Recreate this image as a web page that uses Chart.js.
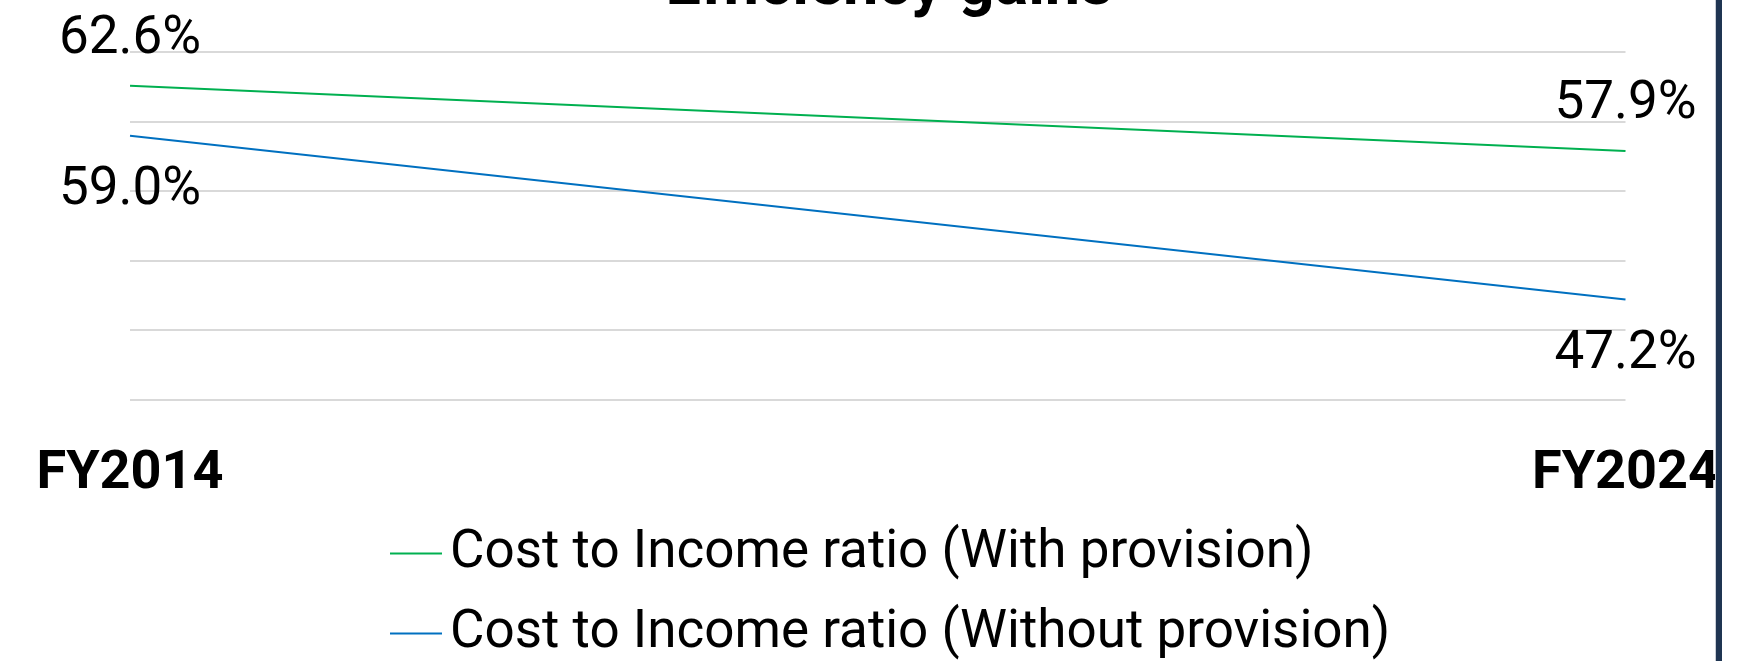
<!DOCTYPE html>
<html>
<head>
<meta charset="utf-8">
<title>Efficiency gains</title>
<script src="https://cdn.jsdelivr.net/npm/chart.js@4.4.1/dist/chart.umd.min.js"></script>
<style>
  html, body { margin: 0; padding: 0; background: #fff; overflow: hidden; }
  #wrap { position: relative; width: 1741px; height: 661px; overflow: hidden; }
  #ratioChart { position: absolute; left: 0; top: -60px; }
  #edge {
    position: absolute; left: 1716px; top: 0; width: 6px; height: 661px;
    background: #1f3552; box-shadow: -1px 0 0 #c9ced6;
  }
</style>
</head>
<body>
<div id="wrap">
  <canvas id="ratioChart" width="1754" height="730"></canvas>
  <div id="edge"></div>
</div>
<script>
const years = ['FY2014', 'FY2024'];
const withProvision = [62.6, 57.9];
const withoutProvision = [59.0, 47.2];
const seriesNames = [
  'Cost to Income ratio (With provision)',
  'Cost to Income ratio (Without provision)'
];
const seriesColors = ['#00b050', '#0070c0'];

// short line swatch used as the legend marker
function swatch(color) {
  const c = document.createElement('canvas');
  c.width = 52;
  c.height = 4;
  const g = c.getContext('2d');
  g.fillStyle = color;
  g.fillRect(0, 1, 52, 2);
  return c;
}

// value labels: first series above its points, second below
const valueLabels = {
  id: 'valueLabels',
  afterDatasetsDraw(chart) {
    const ctx = chart.ctx;
    const shift = [-46, 55];
    ctx.save();
    ctx.font = '53px Roboto';
    ctx.fillStyle = '#000';
    ctx.textAlign = 'center';
    ctx.textBaseline = 'middle';
    chart.data.datasets.forEach((ds, i) => {
      chart.getDatasetMeta(i).data.forEach((pt, j) => {
        ctx.fillText(ds.data[j].toFixed(1) + '%', pt.x, pt.y + shift[i]);
      });
    });
    ctx.restore();
  }
};

// legend rows start from the same x instead of being centred one by one
const legendIndent = {
  id: 'legendIndent',
  afterLayout(chart) {
    chart.legend.left = 381.5;
  }
};

Chart.defaults.font.family = 'Roboto';
Chart.defaults.color = '#000';

const ctx = document.getElementById('ratioChart').getContext('2d');
new Chart(ctx, {
  type: 'line',
  data: {
    labels: years,
    datasets: [
      {
        label: seriesNames[0],
        data: withProvision,
        borderColor: seriesColors[0],
        backgroundColor: seriesColors[0],
        borderWidth: 2,
        pointRadius: 0,
        pointStyle: swatch(seriesColors[0])
      },
      {
        label: seriesNames[1],
        data: withoutProvision,
        borderColor: seriesColors[1],
        backgroundColor: seriesColors[1],
        borderWidth: 2,
        pointRadius: 0,
        pointStyle: swatch(seriesColors[1])
      }
    ]
  },
  options: {
    responsive: false,
    animation: false,
    devicePixelRatio: 1,
    layout: {
      padding: { left: 130, right: 106, top: 0, bottom: 0 }
    },
    scales: {
      x: {
        offset: false,
        grid: { display: false },
        border: { display: false },
        ticks: {
          padding: 35,
          maxRotation: 0,
          font: { size: 54, weight: 'bold' }
        },
        // keep the legend tucked up under the year labels
        afterFit(scale) {
          scale.height = 100.5;
        }
      },
      y: {
        min: 40,
        max: 65,
        ticks: { display: false, stepSize: 5 },
        grid: { color: '#d9d9d9', lineWidth: 2, drawTicks: false },
        border: { display: false }
      }
    },
    plugins: {
      title: {
        display: true,
        text: 'Efficiency gains',
        font: { size: 63, weight: 'bold' },
        padding: { top: 10, bottom: 26.8 }
      },
      legend: {
        position: 'bottom',
        align: 'start',
        labels: {
          usePointStyle: true,
          pointStyleWidth: 15,
          padding: 27,
          font: { size: 53 }
        }
      },
      tooltip: { enabled: false }
    }
  },
  plugins: [valueLabels, legendIndent]
});
</script>
</body>
</html>
